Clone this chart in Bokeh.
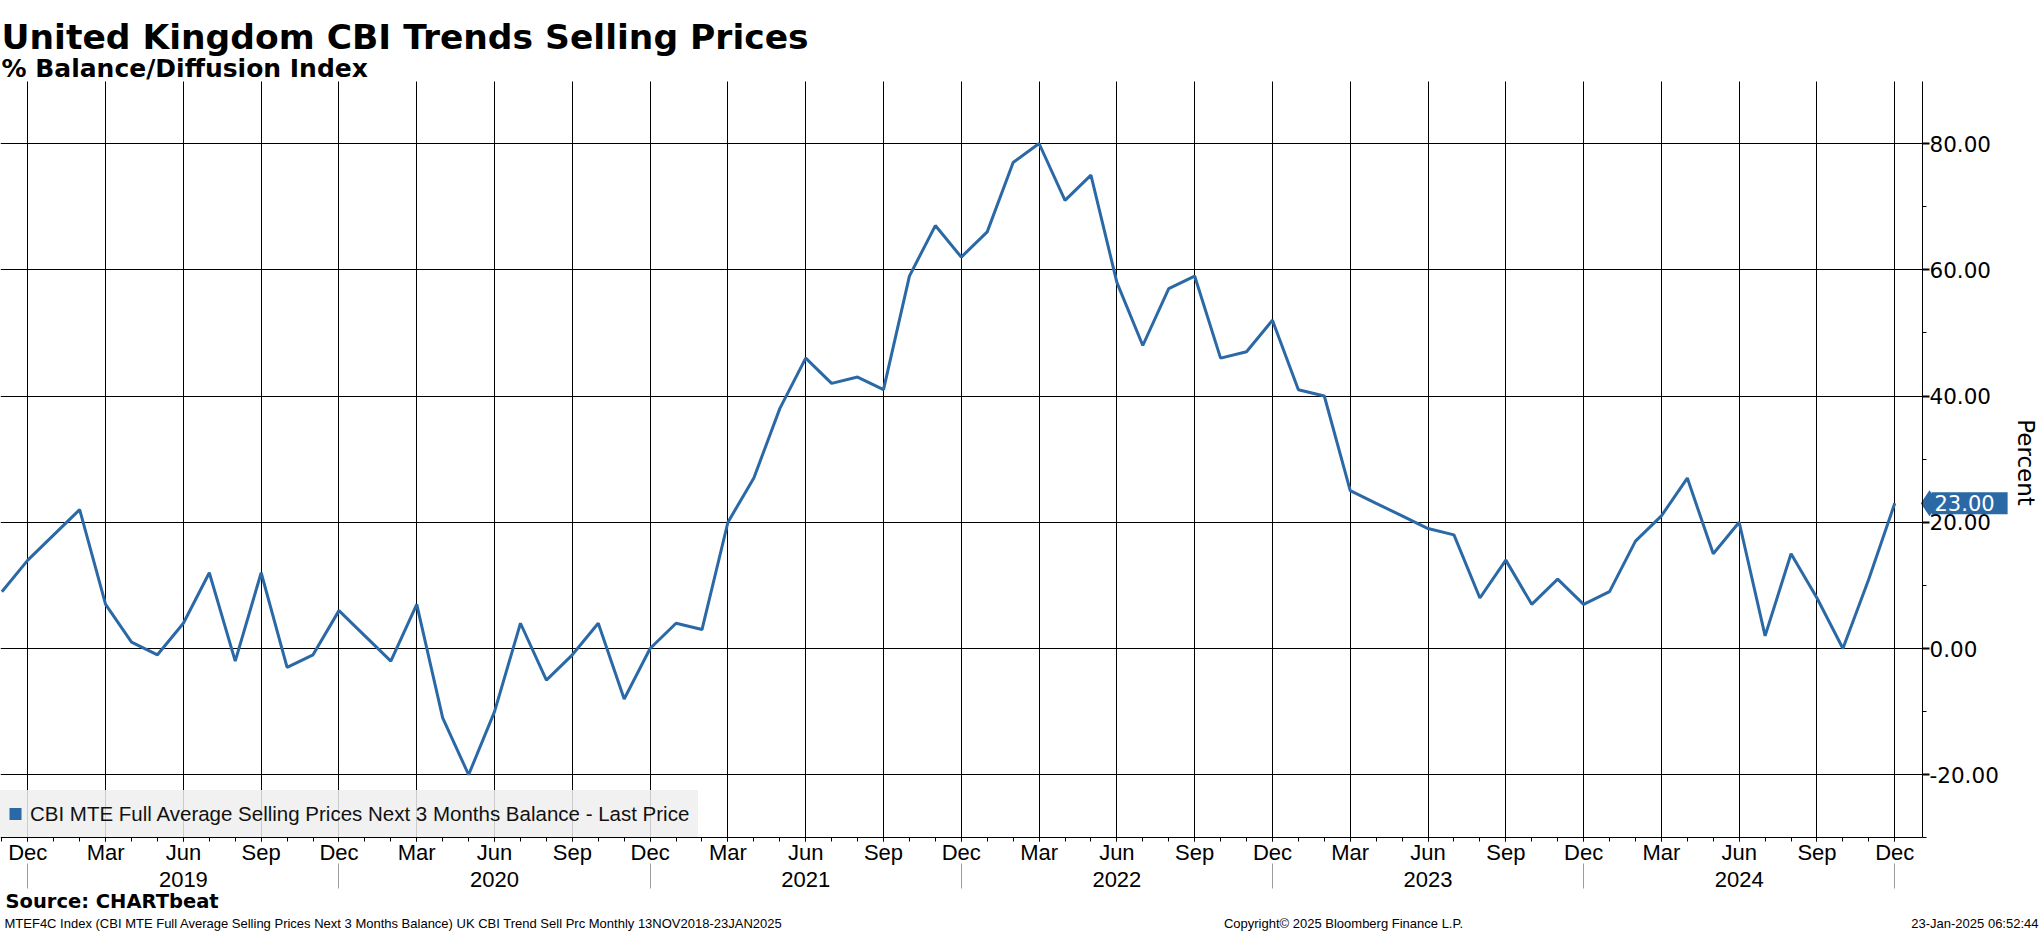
import math
import numpy as np
import pandas as pd
from bokeh.plotting import figure
from bokeh.models import (Range1d, LinearAxis, FixedTicker, NumeralTickFormatter,
                          Label, Legend, LegendItem, ColumnDataSource, Grid)
from bokeh.embed import file_html
from bokeh.resources import INLINE

# ---------------- data ----------------
months = pd.period_range("2018-11", "2024-12", freq="M")
sell_prices_balance = [
    9, 14,
    18, 22, 7, 1, -1, 4, 12, -2, 12, -3, -1, 6,
    2, -2, 7, -11, -20, -10, 4, -5, -1, 4, -8, 0,
    4, 3, 20, 27, 38, 46, 42, 43, 41, 59, 67, 62,
    66, 77, 80, 71, 75, 58, 48, 57, 59, 46, 47, 52,
    41, 40, 25, 23, 21, 19, 18, 8, 14, 7, 11, 7,
    9, 17, 21, 27, 15, 20, 2, 15, 8, 0, 11, 23,
]
y_ticks = [-20, 0, 20, 40, 60, 80]
y_minor_ticks = [-30, -20, -10, 0, 10, 20, 30, 40, 50, 60, 70, 80]
series_name = "CBI MTE Full Average Selling Prices Next 3 Months Balance - Last Price"
title_text = "United Kingdom CBI Trends Selling Prices"
subtitle_text = "% Balance/Diffusion Index"
source_text = "Source: CHARTbeat"
footer_left = ("MTEF4C Index (CBI MTE Full Average Selling Prices Next 3 Months Balance) "
               "UK CBI Trend Sell Prc  Monthly 13NOV2018-23JAN2025")
footer_mid = "Copyright\u00a9 2025 Bloomberg Finance L.P."
footer_right = "23-Jan-2025 06:52:44"
y_axis_title = "Percent"

# ---------------- derived tick positions ----------------
x_idx = list(range(len(months)))
quarter_ticks = [i for i, m in enumerate(months) if m.month in (3, 6, 9, 12)]
month_labels = {i: months[i].strftime("%b") for i in quarter_ticks}
year_ticks = [i for i, m in enumerate(months) if m.month == 6]
year_labels = {i: str(months[i].year) for i in year_ticks}
dec_ticks = [i for i, m in enumerate(months) if m.month == 12]

# ---------------- layout (pixels) ----------------
W, H = 2041, 932
PX_PER_MONTH = 25.93
X0 = -0.053                       # data x at canvas left edge
PX_PER_UNIT = 6.3125
ZERO_Y = 648.0                    # canvas y of value 0
PLOT_TOP_PX, PLOT_BOTTOM_PX, AXIS_X_PX = 81, 837, 1922
SEP_TOP_PX, SEP_BOTTOM_PX = 863, 888
YEAR_LABEL_TOP_PX = 871
TAG_TEXT_PX = 1931

def dx(px):
    return X0 + px / PX_PER_MONTH

def dy(py):
    return (ZERO_Y - py) / PX_PER_UNIT

x_range = Range1d(dx(0), dx(W))
y_range = Range1d(dy(H), dy(0))
x_plot = (dx(0), dx(AXIS_X_PX))
y_plot = (dy(PLOT_BOTTOM_PX), dy(PLOT_TOP_PX))

BLUE = "#2b69a6"

p = figure(width=W, height=H, x_range=x_range, y_range=y_range,
           x_axis_location=None, y_axis_location=None,
           output_backend="svg", toolbar_location=None,
           min_border=0, title=None)
p.outline_line_color = None
p.background_fill_color = "white"
p.border_fill_color = "white"
p.xgrid.visible = False
p.ygrid.visible = False

month_ticker = FixedTicker(ticks=quarter_ticks, minor_ticks=x_idx)
y_ticker = FixedTicker(ticks=y_ticks, minor_ticks=y_minor_ticks)

# ---------------- grid ----------------
if "cross_bounds" in Grid.properties():
    p.add_layout(Grid(dimension=0, ticker=month_ticker, grid_line_color="black",
                      grid_line_width=1, bounds=x_plot, cross_bounds=y_plot))
    p.add_layout(Grid(dimension=1, ticker=FixedTicker(ticks=y_ticks), grid_line_color="black",
                      grid_line_width=1, bounds=y_plot, cross_bounds=x_plot))
    # year separators below the month labels
    p.add_layout(Grid(dimension=0, ticker=FixedTicker(ticks=dec_ticks), grid_line_color="#9c9c9c",
                      grid_line_width=1, bounds=x_plot,
                      cross_bounds=(dy(SEP_BOTTOM_PX), dy(SEP_TOP_PX))))
else:
    p.segment(x0=quarter_ticks, x1=quarter_ticks, y0=[y_plot[0]] * len(quarter_ticks),
              y1=[y_plot[1]] * len(quarter_ticks), line_color="black", line_width=1)
    p.segment(x0=[x_plot[0]] * len(y_ticks), x1=[x_plot[1]] * len(y_ticks), y0=y_ticks,
              y1=y_ticks, line_color="black", line_width=1)
    p.segment(x0=dec_ticks, x1=dec_ticks, y0=[dy(SEP_BOTTOM_PX)] * len(dec_ticks),
              y1=[dy(SEP_TOP_PX)] * len(dec_ticks), line_color="#9c9c9c", line_width=1)

# ---------------- series ----------------
src = ColumnDataSource(dict(x=x_idx, y=sell_prices_balance))
line_r = p.line("x", "y", source=src, line_color=BLUE, line_width=3)

# legend proxy (zero-size square marker at last point)
proxy = p.scatter(x=[x_idx[-1]], y=[sell_prices_balance[-1]], marker="square", size=0,
                  fill_color=BLUE, line_color=None)

# ---------------- axes ----------------
xa = LinearAxis(ticker=month_ticker, major_label_overrides=month_labels,
                fixed_location=y_plot[0], bounds=x_plot)
xa.axis_line_color = "black"
xa.major_tick_in = 0
xa.major_tick_out = 4
xa.minor_tick_in = 0
xa.minor_tick_out = 4
xa.major_tick_line_color = "black"
xa.minor_tick_line_color = "black"
xa.major_label_standoff = -2
xa.major_label_text_font = "Liberation Sans"
xa.major_label_text_font_size = "22px"
xa.major_label_text_color = "black"
p.add_layout(xa, "below")

year_axis = LinearAxis(ticker=FixedTicker(ticks=year_ticks, minor_ticks=[]),
                       major_label_overrides=year_labels,
                       fixed_location=dy(YEAR_LABEL_TOP_PX), bounds=x_plot)
year_axis.axis_line_color = None
year_axis.major_tick_line_color = None
year_axis.minor_tick_line_color = None
year_axis.major_tick_out = 0
year_axis.major_tick_in = 0
year_axis.minor_tick_out = 0
year_axis.minor_tick_in = 0
year_axis.major_label_standoff = 0
year_axis.major_label_text_font = "Liberation Sans"
year_axis.major_label_text_font_size = "22px"
year_axis.major_label_text_color = "black"
p.add_layout(year_axis, "below")

ya = LinearAxis(ticker=y_ticker, formatter=NumeralTickFormatter(format="0.00"),
                fixed_location=x_plot[1], bounds=y_plot)
ya.axis_line_color = "black"
ya.major_tick_in = 0
ya.major_tick_out = 7
ya.major_tick_line_width = 2
ya.major_tick_line_color = "black"
ya.minor_tick_in = 0
ya.minor_tick_out = 4
ya.minor_tick_line_color = "black"
ya.major_label_standoff = 0
ya.major_label_text_font = "DejaVu Sans"
ya.major_label_text_font_size = "21.5px"
ya.major_label_text_color = "black"
p.add_layout(ya, "right")

# ---------------- legend ----------------
legend = Legend(items=[LegendItem(label=series_name, renderers=[proxy])],
                location=(0, H - PLOT_BOTTOM_PX), margin=0, padding=0, spacing=0,
                glyph_width=30, glyph_height=47, label_standoff=0, label_height=47,
                label_width=668,
                background_fill_color="#efefef", background_fill_alpha=0.85,
                border_line_color=None,
                label_text_font="Liberation Sans", label_text_font_size="20.5px",
                label_text_color="#111111")
p.add_layout(legend)

# ---------------- texts ----------------
def lab(text, x, yc, **kw):
    return Label(text=text, x=x, y=H - yc, x_units="screen", y_units="screen", **kw)

p.add_layout(lab(title_text, 1, 36, text_font="DejaVu Sans", text_font_style="bold",
                 text_font_size="34.5px", text_color="black", text_baseline="alphabetic"))
p.add_layout(lab(subtitle_text, 1, 68, text_font="DejaVu Sans", text_font_style="bold",
                 text_font_size="25px", text_color="black", text_baseline="alphabetic"))
p.add_layout(lab(source_text, 5, 901, text_font="DejaVu Sans", text_font_style="bold",
                 text_font_size="19.5px", text_color="black", text_baseline="middle"))
p.add_layout(lab(footer_left, 4, 923, text_font="Liberation Sans",
                 text_font_size="13px", text_color="black", text_baseline="middle"))
p.add_layout(lab(footer_mid, 1343, 923, text_font="Liberation Sans",
                 text_font_size="13px", text_color="black", text_baseline="middle",
                 text_align="center"))
p.add_layout(lab(footer_right, W - 3, 923, text_font="Liberation Sans",
                 text_font_size="13px", text_color="black", text_baseline="middle",
                 text_align="right"))
p.add_layout(lab(y_axis_title, 2025, 462, text_font="DejaVu Sans",
                 text_font_size="23px", text_color="black", text_baseline="middle",
                 text_align="center", angle=-math.pi / 2))

# last price tag: pointed tip + box with value
last_val = sell_prices_balance[-1]
p.scatter(x=[dx(TAG_TEXT_PX - 2)], y=[last_val], marker="diamond", size=26,
          fill_color=BLUE, line_color=None)
tag = Label(text=f"{last_val:.2f}", x=TAG_TEXT_PX, y=last_val,
            x_units="screen", y_units="data", text_font="DejaVu Sans", text_font_size="21px",
            text_color="white", text_baseline="middle", text_align="left",
            background_fill_color=BLUE, border_line_color=None,
            padding=(3, 13, 3, 3))
p.add_layout(tag)

open("out.html", "w").write(file_html(p, INLINE))
